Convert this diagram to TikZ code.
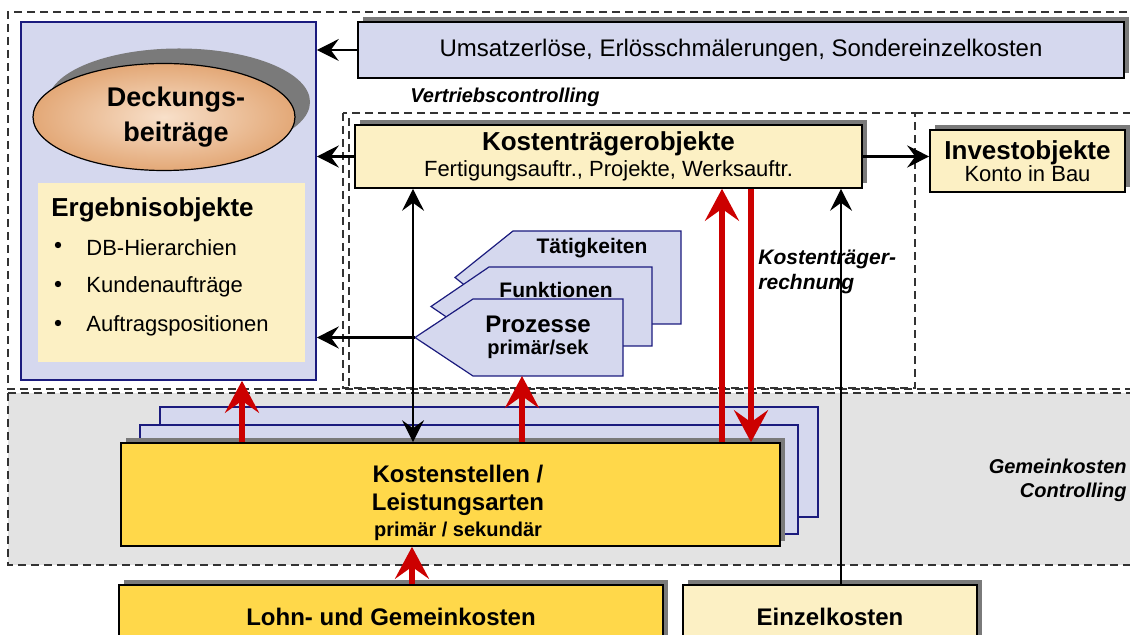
\documentclass[tikz,border=0pt]{standalone}
\usepackage{fontspec}
\setmainfont{Liberation Sans}
\usetikzlibrary{shapes.geometric,arrows.meta,shadows}

\definecolor{lav}{HTML}{D5D8EE}
\definecolor{navy}{HTML}{1B1B7E}
\definecolor{paleyel}{HTML}{FCF0C4}
\definecolor{yel}{HTML}{FFD84A}
\definecolor{tan}{HTML}{E3A877}
\definecolor{tanlight}{HTML}{F8E0CA}
\definecolor{darkred}{HTML}{CC0000}
\definecolor{regiongray}{HTML}{E3E3E3}
\definecolor{shadowgray}{HTML}{7A7A7A}

\tikzset{
  region/.style={dash pattern=on 4pt off 2.5pt, line width=0.8pt, draw=black!80},
  box/.style={draw=black, line width=0.8pt, inner sep=2pt, align=center,
    drop shadow={shadow xshift=2.5pt, shadow yshift=2.5pt, fill=shadowgray, opacity=1}},
  lavbox/.style={box, fill=lav},
  yelbox/.style={box, fill=yel},
  palebox/.style={box, fill=paleyel},
  stackbox/.style={draw=navy, line width=0.8pt, fill=lav},
  procshape/.style={draw=navy, line width=0.6pt, fill=lav},
  txt/.style={inner sep=0pt, align=center},
  bul/.style={circle, fill=black, inner sep=0pt, minimum size=3.2pt},
  thinarr/.style={->, line width=0.7pt},
  thickarr/.style={->, line width=1.5pt},
  redarr/.style={-{Stealth[length=16pt,width=17pt,inset=6pt]}, line width=3pt, draw=darkred},
}

\begin{document}
\begin{tikzpicture}[x=0.5pt, y=-0.5pt, >={Stealth[length=11pt,width=11pt,inset=4pt]}]
	\useasboundingbox (0,0) rectangle (1130,635);

	% controlling regions
	\draw[region, fill=regiongray] (8,393) rectangle (1140,565);
	\draw[region] (1140,12) -- (8,12) -- (8,389) -- (1140,389);
	\draw[region] (343,113) rectangle (915,388);
	\draw[region] (915,113) -- (1140,113);
	\draw[region] (349,118) -- (349,386);

	% result objects
	\node[draw=navy, line width=0.8pt, fill=lav, minimum width=147.5pt, minimum height=179pt] (frame) at (168.5,201) {};
	\node[ellipse, draw=black, line width=0.6pt, inner color=tanlight, outer color=tan,
		minimum width=131pt, minimum height=53.5pt, align=center,
		font=\fontsize{13.5}{17.5}\selectfont\bfseries,
		drop shadow={shadow xshift=7.5pt, shadow yshift=7.5pt, fill=shadowgray, opacity=1}] (deckung) at (164,117) {\hspace*{12pt}Deckungs-\\\hspace*{12pt}beiträge};
	\node[fill=paleyel, minimum width=133.5pt, minimum height=89.5pt] (ergebnis) at (171.5,272.5) {};
	\node[txt, anchor=west, font=\fontsize{13}{15}\selectfont\bfseries] (ergtitle) at (51,210) {Ergebnisobjekte};
	\node[bul] (bul1) at (58,245) {};
	\node[bul] (bul2) at (58,284) {};
	\node[bul] (bul3) at (58,323) {};
	\node[txt, anchor=west, font=\fontsize{11}{13}\selectfont] (item1) at (86,248) {DB-Hierarchien};
	\node[txt, anchor=west, font=\fontsize{11}{13}\selectfont] (item2) at (86,287) {Kundenaufträge};
	\node[txt, anchor=west, font=\fontsize{11}{13}\selectfont] (item3) at (86,326) {Auftragspositionen};

	% sales and cost objects
	\node[lavbox, minimum width=383pt, minimum height=28pt, font=\fontsize{12}{14}\selectfont] (umsatz) at (741,50) {Umsatzerlöse, Erlösschmälerungen, Sondereinzelkosten};
	\node[txt, font=\fontsize{10}{12}\selectfont\bfseries\itshape] (vertrieb) at (505,97) {Vertriebscontrolling};
	\node[palebox, minimum width=253.5pt, minimum height=31.5pt] (kto) at (608.5,156.5)
		{{\fontsize{13}{15}\selectfont\bfseries Kostenträgerobjekte}\\[1pt]{\fontsize{11}{13}\selectfont Fertigungsauftr., Projekte, Werksauftr.}};
	\node[palebox, minimum width=97.5pt, minimum height=31pt] (invest) at (1027.5,161)
		{{\fontsize{13}{15}\selectfont\bfseries Investobjekte}\\[-1pt]{\fontsize{11}{13}\selectfont Konto in Bau}};

	% processes
	\draw[procshape] (455,277.5) -- (513,231) -- (681,231) -- (681,324) -- (513,324) -- cycle;
	\draw[procshape] (431,306.5) -- (489,267) -- (652,267) -- (652,346) -- (489,346) -- cycle;
	\draw[procshape] (415,337.5) -- (473,299) -- (623,299) -- (623,376) -- (473,376) -- cycle;
	\coordinate (ptip) at (415,337.5);
	\coordinate (pbot) at (522,376);
	\node[txt, font=\fontsize{10.5}{12}\selectfont\bfseries] (taet) at (592,248) {Tätigkeiten};
	\node[txt, font=\fontsize{10.5}{12}\selectfont\bfseries] (funk) at (556,290) {Funktionen};
	\node[txt, font=\fontsize{12}{14}\selectfont\bfseries] (proz) at (538,324) {Prozesse};
	\node[txt, font=\fontsize{10}{12}\selectfont\bfseries] (primsek) at (538,349) {primär/sek};

	% cost centers
	\draw[stackbox] (160,407) rectangle (818,517);
	\draw[stackbox] (140,425) rectangle (798,534);
	\node[yelbox, minimum width=329.5pt, minimum height=51.5pt] (kst) at (450.5,494.5) {};
	\node[txt, font=\fontsize{12}{14}\selectfont\bfseries] (ksttext) at (458,490) {Kostenstellen /\\Leistungsarten};
	\node[txt, font=\fontsize{10}{12}\selectfont\bfseries] (kstsub) at (458,531) {primär / sekundär};
	\node[txt, anchor=west, align=left, font=\fontsize{10.5}{12.5}\selectfont\bfseries\itshape] (ktrech) at (758,272) {Kostenträger-\\rechnung};
	\node[txt, anchor=east, align=right, font=\fontsize{10}{12}\selectfont\bfseries\itshape] (gemein) at (1127,480) {Gemeinkosten\\Controlling};

	% cost types
	\node[yelbox, minimum width=272pt, minimum height=32pt, font=\fontsize{12}{14}\selectfont\bfseries] (lohn) at (391,617) {Lohn- und Gemeinkosten};
	\node[palebox, minimum width=147pt, minimum height=32pt, font=\fontsize{12}{14}\selectfont\bfseries] (einzel) at (830,617) {Einzelkosten};

	% flows
	\draw[thinarr] (umsatz.west) -- (umsatz.west -| frame.east);
	\draw[thickarr] (kto.west) -- (kto.west -| frame.east);
	\draw[thickarr] (ptip) -- (ptip -| frame.east);
	\draw[thickarr] (kto.east) -- (kto.east -| invest.west);
	\coordinate (vx) at (413,0);
	\draw[<->, line width=0.7pt] (vx |- kto.south) -- (vx |- kst.north);
	\coordinate (ex) at (841,0);
	\draw[thinarr] (ex |- einzel.north) -- (ex |- kto.south);
	\coordinate (r1) at (242,0);
	\coordinate (r2) at (722,0);
	\coordinate (r3) at (751,0);
	\coordinate (r4) at (412,0);
	\draw[redarr] (r1 |- kst.north) -- (r1 |- frame.south);
	\draw[redarr] (pbot |- kst.north) -- (pbot);
	\draw[redarr] (r2 |- kst.north) -- (r2 |- kto.south);
	\draw[redarr] (r3 |- kto.south) -- (r3 |- kst.north);
	\draw[redarr] (r4 |- lohn.north) -- (r4 |- kst.south);
\end{tikzpicture}
\end{document}
